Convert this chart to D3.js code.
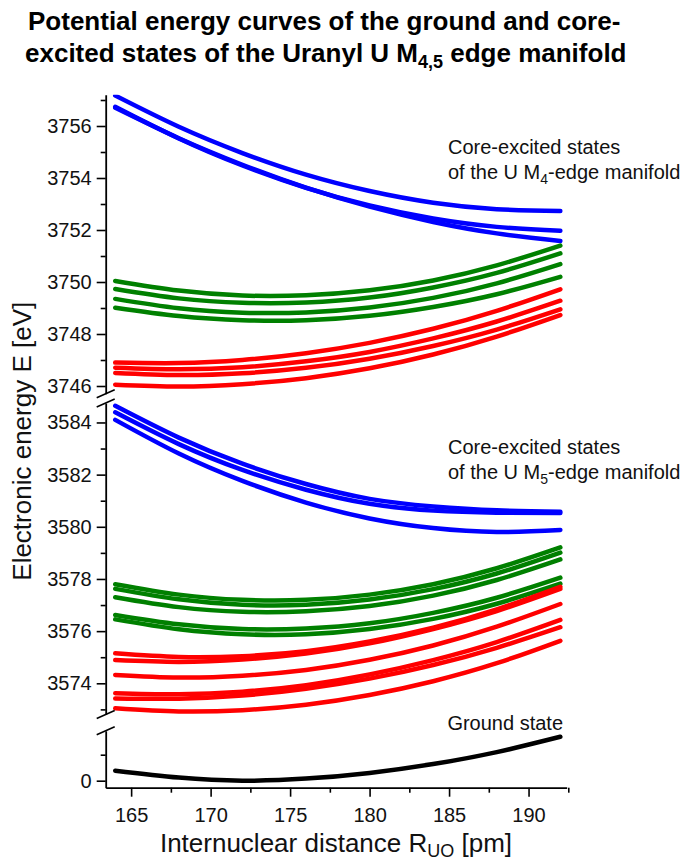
<!DOCTYPE html>
<html>
<head>
<meta charset="utf-8">
<script src="https://cdn.jsdelivr.net/npm/d3@7"></script>
<style>
  body { margin: 0; background: #fff; }
  svg { display: block; font-family: Arial, "Liberation Sans", sans-serif; }
</style>
</head>
<body>
<div id="chart"></div>
<script>
// internuclear distance R_UO [pm] sample points
const R = [164, 168, 172, 176, 180, 184, 188, 192];

// U M4-edge manifold (eV)
const m4Blue = [
  [3757.17, 3755.97, 3754.96, 3754.13, 3753.50, 3753.05, 3752.80, 3752.73],
  [3756.74, 3755.52, 3754.48, 3753.62, 3752.94, 3752.44, 3752.12, 3751.97],
  [3756.70, 3755.53, 3754.51, 3753.63, 3752.90, 3752.31, 3751.87, 3751.58]
];
const m4Green = [
  [3750.04, 3749.67, 3749.48, 3749.49, 3749.68, 3750.06, 3750.64, 3751.40],
  [3749.73, 3749.37, 3749.20, 3749.21, 3749.40, 3749.79, 3750.35, 3751.10],
  [3749.35, 3748.99, 3748.82, 3748.83, 3749.02, 3749.39, 3749.95, 3750.69],
  [3749.01, 3748.69, 3748.53, 3748.53, 3748.70, 3749.04, 3749.53, 3750.20]
];
const m4Red = [
  [3746.90, 3746.88, 3747.00, 3747.26, 3747.66, 3748.20, 3748.89, 3749.72],
  [3746.70, 3746.64, 3746.72, 3746.95, 3747.31, 3747.83, 3748.48, 3749.28],
  [3746.50, 3746.42, 3746.49, 3746.70, 3747.05, 3747.54, 3748.17, 3748.95],
  [3746.05, 3745.98, 3746.07, 3746.30, 3746.68, 3747.21, 3747.90, 3748.73]
];

// U M5-edge manifold (eV)
const m5Blue = [
  [3584.64, 3583.42, 3582.42, 3581.64, 3581.07, 3580.78, 3580.63, 3580.58],
  [3584.39, 3583.17, 3582.18, 3581.42, 3580.88, 3580.62, 3580.54, 3580.53],
  [3584.10, 3582.81, 3581.76, 3580.93, 3580.32, 3579.95, 3579.80, 3579.88]
];
const m5Green = [
  [3577.80, 3577.40, 3577.20, 3577.20, 3577.40, 3577.80, 3578.41, 3579.21],
  [3577.62, 3577.22, 3577.01, 3577.01, 3577.21, 3577.61, 3578.21, 3579.01],
  [3577.30, 3576.92, 3576.74, 3576.76, 3576.96, 3577.36, 3577.96, 3578.75],
  [3576.62, 3576.26, 3576.08, 3576.10, 3576.30, 3576.70, 3577.28, 3578.05],
  [3576.45, 3576.07, 3575.88, 3575.88, 3576.08, 3576.47, 3577.05, 3577.82]
];
const m5Red = [
  [3575.15, 3575.01, 3575.04, 3575.23, 3575.60, 3576.13, 3576.83, 3577.70],
  [3574.89, 3574.82, 3574.91, 3575.14, 3575.53, 3576.08, 3576.77, 3577.62],
  [3574.32, 3574.22, 3574.29, 3574.51, 3574.90, 3575.45, 3576.17, 3577.04],
  [3573.62, 3573.58, 3573.68, 3573.93, 3574.34, 3574.89, 3575.58, 3576.43],
  [3573.42, 3573.41, 3573.53, 3573.79, 3574.18, 3574.70, 3575.36, 3576.15],
  [3573.04, 3572.92, 3572.97, 3573.18, 3573.55, 3574.08, 3574.77, 3575.63]
];

// ground state (eV)
const ground = [0.385, 0.12, 0.0, 0.08, 0.30, 0.64, 1.10, 1.69];

const xMajor = [165, 170, 175, 180, 185, 190];
const xMinor = [167.5, 172.5, 177.5, 182.5, 187.5, 192.5];

const BLUE = '#0000ff', GREEN = '#008000', RED = '#ff0000', BLACK = '#000';

const width = 684, height = 865;
const svg = d3.select('#chart').append('svg')
  .attr('width', width)
  .attr('height', height);

const x = d3.scaleLinear().domain([163.4, 192.4]).range([105.7, 566.7]);
const axisX = x.range()[0];

// three stacked panels of the broken y axis
const panels = [
  { id: 'm4', domain: [3745.7, 3757.2], range: [393.8, 94.8],
    major: [3746, 3748, 3750, 3752, 3754, 3756],
    minor: [3747, 3749, 3751, 3753, 3755, 3757],
    sets: [[m4Blue, BLUE], [m4Green, GREEN], [m4Red, RED]] },
  { id: 'm5', domain: [3572.8, 3584.75], range: [714.6, 402.9],
    major: [3574, 3576, 3578, 3580, 3582, 3584],
    minor: [3573, 3575, 3577, 3579, 3581, 3583],
    sets: [[m5Blue, BLUE], [m5Green, GREEN], [m5Red, RED]] },
  { id: 'gs', domain: [-0.27, 1.92], range: [787.7, 730.8],
    major: [0], minor: [1],
    sets: [[[ground], BLACK]] }
];

panels.forEach(p => {
  p.y = d3.scaleLinear().domain(p.domain).range(p.range);

  svg.append('clipPath').attr('id', 'clip-' + p.id)
    .append('rect')
      .attr('x', 0).attr('width', width)
      .attr('y', p.range[1]).attr('height', p.range[0] - p.range[1]);

  const line = d3.line()
    .x((d, i) => x(R[i]))
    .y(d => p.y(d))
    .curve(d3.curveNatural);

  const g = svg.append('g').attr('clip-path', `url(#clip-${p.id})`);
  p.sets.forEach(([curves, color]) => {
    g.selectAll(null)
      .data(curves)
      .join('path')
        .attr('d', line)
        .attr('fill', 'none')
        .attr('stroke', color)
        .attr('stroke-width', 4.5)
        .attr('stroke-linecap', 'round');
  });

  // minor ticks
  svg.append('g')
    .attr('transform', `translate(${axisX},0)`)
    .call(d3.axisLeft(p.y).tickValues(p.minor).tickSize(5).tickSizeOuter(0).tickFormat(''))
    .call(a => a.select('.domain').remove())
    .selectAll('line').attr('stroke-width', 1.6);

  // major ticks + labels + axis segment
  const ax = svg.append('g')
    .attr('transform', `translate(${axisX},0)`)
    .call(d3.axisLeft(p.y).tickValues(p.major).tickSize(9).tickSizeOuter(0).tickPadding(5).tickFormat(d3.format('d')));
  ax.select('.domain').attr('stroke-width', 1.8);
  ax.selectAll('line').attr('stroke-width', 1.6);
  ax.selectAll('text').attr('font-size', 20).attr('font-family', 'Arial, "Liberation Sans", sans-serif').attr('fill', '#111');
});

// break marks between panels
const breaks = [panels[0].range[0], panels[1].range[1], panels[1].range[0], panels[2].range[1]];
svg.append('g').selectAll('line')
  .data(breaks)
  .join('line')
    .attr('x1', axisX - 9).attr('y1', d => d + 4)
    .attr('x2', axisX + 9).attr('y2', d => d - 4)
    .attr('stroke', '#000')
    .attr('stroke-width', 1.6);

// x axis
svg.append('g')
  .attr('transform', `translate(0,${panels[2].range[0]})`)
  .call(d3.axisBottom(x).tickValues(xMinor).tickSize(5).tickSizeOuter(0).tickFormat(''))
  .call(a => a.select('.domain').remove())
  .selectAll('line').attr('stroke-width', 1.6);

const xa = svg.append('g')
  .attr('transform', `translate(0,${panels[2].range[0]})`)
  .call(d3.axisBottom(x).tickValues(xMajor).tickSize(9).tickSizeOuter(0).tickPadding(11));
xa.select('.domain').attr('stroke-width', 1.8);
xa.selectAll('line').attr('stroke-width', 1.6);
xa.selectAll('text').attr('font-size', 20).attr('font-family', 'Arial, "Liberation Sans", sans-serif').attr('fill', '#111');

// title
const title = svg.append('text')
  .attr('font-size', 26).attr('font-weight', 'bold').attr('fill', '#000');
title.append('tspan').attr('x', 28).attr('y', 30)
  .text('Potential energy curves of the ground and core-');
const t2 = title.append('tspan').attr('x', 25).attr('y', 62);
t2.append('tspan').text('excited states of the Uranyl U M');
t2.append('tspan').attr('font-size', 18).attr('dy', 6).text('4,5');
t2.append('tspan').attr('dy', -6).text(' edge manifold');

// axis titles
svg.append('text')
  .attr('transform', `translate(31,${(94.8 + 787.7) / 2}) rotate(-90)`)
  .attr('text-anchor', 'middle')
  .attr('font-size', 26)
  .attr('fill', '#111')
  .text('Electronic energy E [eV]');

const xl = svg.append('text')
  .attr('x', 336).attr('y', 852)
  .attr('text-anchor', 'middle')
  .attr('font-size', 26)
  .attr('fill', '#111');
xl.append('tspan').text('Internuclear distance R');
xl.append('tspan').attr('font-size', 18).attr('dy', 5).text('UO');
xl.append('tspan').attr('dy', -5).text(' [pm]');

// annotations
function note(y, sub) {
  const t = svg.append('text').attr('font-size', 20).attr('fill', '#111');
  t.append('tspan').attr('x', 448).attr('y', y).text('Core-excited states');
  const l2 = t.append('tspan').attr('x', 448).attr('y', y + 25);
  l2.append('tspan').text('of the U M');
  l2.append('tspan').attr('font-size', 14).attr('dy', 5).text(sub);
  l2.append('tspan').attr('dy', -5).text('-edge manifold');
}
note(154, '4');
note(454, '5');

svg.append('text')
  .attr('x', 563).attr('y', 730)
  .attr('text-anchor', 'end')
  .attr('font-size', 20)
  .attr('fill', '#111')
  .text('Ground state');
</script>
</body>
</html>
